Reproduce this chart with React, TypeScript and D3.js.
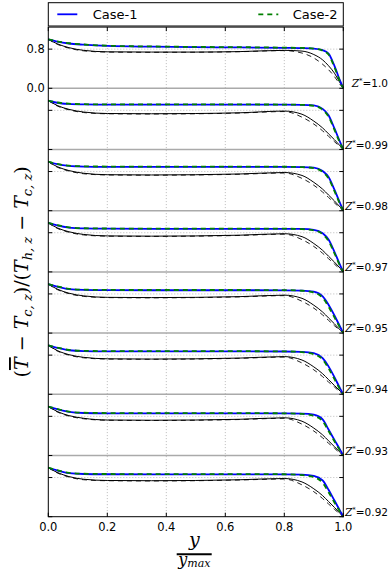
import React from 'react';
import * as d3 from 'd3';

// Sample positions along y / y_max shared by every profile
const xs = [0, 0.03, 0.07, 0.12, 0.2, 0.35, 0.5, 0.65, 0.8, 0.86, 0.9, 0.93, 0.95, 0.97, 0.99, 1.0];

// One stacked panel per Z* station, top to bottom
const zStations = ['1.0', '0.99', '0.98', '0.97', '0.95', '0.94', '0.93', '0.92'];

const xTicks = [0, 0.2, 0.4, 0.6, 0.8, 1.0];
const yTickLabels = ['0.8', '0.0'];

// Case-1 (blue solid)
const case1 = [
  [1.0, 0.955, 0.915, 0.89, 0.865, 0.85, 0.84, 0.835, 0.825, 0.82, 0.81, 0.78, 0.71, 0.46, 0.14, 0],
  [1.0, 0.955, 0.93, 0.92, 0.916, 0.915, 0.915, 0.915, 0.915, 0.912, 0.9, 0.83, 0.7, 0.43, 0.14, 0],
  [1.0, 0.95, 0.915, 0.902, 0.897, 0.895, 0.895, 0.895, 0.895, 0.892, 0.88, 0.81, 0.69, 0.43, 0.14, 0],
  [1.0, 0.95, 0.905, 0.888, 0.882, 0.88, 0.88, 0.88, 0.88, 0.877, 0.86, 0.79, 0.66, 0.41, 0.13, 0],
  [1.0, 0.95, 0.9, 0.882, 0.877, 0.875, 0.875, 0.875, 0.874, 0.868, 0.845, 0.75, 0.58, 0.36, 0.12, 0],
  [1.0, 0.95, 0.9, 0.882, 0.877, 0.875, 0.875, 0.875, 0.874, 0.866, 0.84, 0.74, 0.57, 0.35, 0.11, 0],
  [1.0, 0.945, 0.89, 0.868, 0.862, 0.86, 0.86, 0.86, 0.86, 0.855, 0.835, 0.74, 0.53, 0.32, 0.11, 0],
  [1.0, 0.945, 0.89, 0.872, 0.867, 0.865, 0.865, 0.865, 0.865, 0.86, 0.835, 0.74, 0.55, 0.33, 0.11, 0],
];

// Case-2 (green dashed)
const case2 = [
  [1.0, 0.96, 0.92, 0.895, 0.87, 0.855, 0.845, 0.84, 0.83, 0.825, 0.81, 0.77, 0.69, 0.43, 0.12, 0],
  [1.0, 0.96, 0.935, 0.925, 0.92, 0.92, 0.92, 0.92, 0.918, 0.912, 0.89, 0.81, 0.67, 0.4, 0.12, 0],
  [1.0, 0.955, 0.92, 0.907, 0.902, 0.9, 0.9, 0.9, 0.898, 0.89, 0.87, 0.79, 0.66, 0.4, 0.12, 0],
  [1.0, 0.955, 0.91, 0.892, 0.886, 0.885, 0.885, 0.885, 0.883, 0.874, 0.85, 0.77, 0.63, 0.38, 0.11, 0],
  [1.0, 0.955, 0.905, 0.887, 0.882, 0.88, 0.88, 0.88, 0.878, 0.865, 0.83, 0.72, 0.54, 0.32, 0.1, 0],
  [1.0, 0.955, 0.905, 0.887, 0.882, 0.88, 0.88, 0.88, 0.877, 0.862, 0.82, 0.71, 0.53, 0.31, 0.09, 0],
  [1.0, 0.95, 0.895, 0.873, 0.867, 0.865, 0.865, 0.865, 0.862, 0.85, 0.81, 0.7, 0.5, 0.29, 0.09, 0],
  [1.0, 0.95, 0.895, 0.877, 0.872, 0.87, 0.87, 0.87, 0.867, 0.85, 0.81, 0.69, 0.5, 0.29, 0.09, 0],
];

// Thin black solid reference profiles
const refSolid = [
  [1.0, 0.91, 0.83, 0.775, 0.745, 0.74, 0.74, 0.75, 0.775, 0.76, 0.69, 0.58, 0.46, 0.31, 0.1, 0],
  [1.0, 0.9, 0.82, 0.765, 0.735, 0.73, 0.735, 0.75, 0.785, 0.72, 0.58, 0.44, 0.32, 0.2, 0.07, 0],
  [1.0, 0.9, 0.82, 0.765, 0.735, 0.73, 0.735, 0.75, 0.78, 0.72, 0.58, 0.44, 0.32, 0.2, 0.07, 0],
  [1.0, 0.9, 0.82, 0.765, 0.735, 0.73, 0.735, 0.75, 0.78, 0.72, 0.58, 0.44, 0.32, 0.2, 0.07, 0],
  [1.0, 0.9, 0.815, 0.76, 0.73, 0.725, 0.73, 0.745, 0.775, 0.71, 0.57, 0.43, 0.31, 0.19, 0.06, 0],
  [1.0, 0.895, 0.81, 0.755, 0.725, 0.72, 0.725, 0.74, 0.77, 0.7, 0.56, 0.42, 0.3, 0.18, 0.06, 0],
  [1.0, 0.9, 0.815, 0.76, 0.725, 0.72, 0.725, 0.74, 0.77, 0.7, 0.56, 0.42, 0.3, 0.18, 0.06, 0],
  [1.0, 0.905, 0.82, 0.765, 0.74, 0.735, 0.74, 0.755, 0.78, 0.71, 0.57, 0.43, 0.31, 0.19, 0.06, 0],
];

// Thin black dashed reference profiles
const refDashed = [
  [1.0, 0.9, 0.82, 0.765, 0.74, 0.735, 0.737, 0.748, 0.77, 0.72, 0.62, 0.49, 0.38, 0.24, 0.07, 0],
  [1.0, 0.89, 0.81, 0.755, 0.73, 0.725, 0.73, 0.745, 0.775, 0.66, 0.52, 0.38, 0.27, 0.16, 0.05, 0],
  [1.0, 0.89, 0.81, 0.755, 0.73, 0.725, 0.73, 0.745, 0.77, 0.66, 0.52, 0.38, 0.27, 0.16, 0.05, 0],
  [1.0, 0.89, 0.81, 0.755, 0.73, 0.725, 0.73, 0.745, 0.77, 0.66, 0.52, 0.38, 0.27, 0.16, 0.05, 0],
  [1.0, 0.89, 0.805, 0.75, 0.725, 0.72, 0.725, 0.74, 0.765, 0.65, 0.51, 0.37, 0.26, 0.15, 0.05, 0],
  [1.0, 0.885, 0.8, 0.745, 0.72, 0.715, 0.72, 0.735, 0.76, 0.64, 0.5, 0.36, 0.25, 0.15, 0.04, 0],
  [1.0, 0.89, 0.805, 0.75, 0.72, 0.715, 0.72, 0.735, 0.76, 0.64, 0.5, 0.36, 0.25, 0.15, 0.04, 0],
  [1.0, 0.895, 0.81, 0.755, 0.735, 0.73, 0.735, 0.75, 0.77, 0.65, 0.51, 0.37, 0.26, 0.15, 0.05, 0],
];

const W = 390;
const H = 576;
const STEP = 1.25; // vertical offset between stacked panels (data units)
const LEFT = 48.3;
const RIGHT = 343.3;
const TOP = 27.1;
const BOTTOM = 516.7;

const x = d3.scaleLinear().domain([0, 1]).range([LEFT, RIGHT]);
const y = d3.scaleLinear().domain([-STEP * (zStations.length - 1), STEP]).range([BOTTOM, TOP]);

const sans = 'DejaVu Sans, sans-serif';
const serif = 'DejaVu Serif, serif';

function profilePath(values: number[], panel: number) {
  const gen = d3
    .line<number>()
    .x((_, j) => x(xs[j]))
    .y((v) => y(v - STEP * panel))
    .curve(d3.curveMonotoneX);
  return gen(values) || '';
}

export default function App() {
  const panels = zStations.map((_, i) => i);
  const grid = '#a8a8a8';
  return (
    <svg
      width={W}
      height={H}
      style={{ position: 'absolute', left: 0, top: 0, background: '#fff' }}
      xmlns="http://www.w3.org/2000/svg"
    >
      <rect x={0} y={0} width={W} height={H} fill="#fff" />

      {/* vertical dotted grid */}
      {xTicks.slice(1, -1).map((t) => (
        <line key={'vg' + t} x1={x(t)} x2={x(t)} y1={TOP} y2={BOTTOM} stroke={grid} strokeWidth={0.8} strokeDasharray="1,2" />
      ))}

      {/* per-panel dotted 0.8 grid and grey baseline */}
      {panels.map((i) => (
        <g key={'pg' + i}>
          <line x1={LEFT} x2={RIGHT} y1={y(0.8 - STEP * i)} y2={y(0.8 - STEP * i)} stroke={grid} strokeWidth={0.8} strokeDasharray="1,2" />
          {i < panels.length - 1 && (
            <line x1={LEFT} x2={RIGHT} y1={y(-STEP * i)} y2={y(-STEP * i)} stroke="#aaaaaa" strokeWidth={1.5} />
          )}
        </g>
      ))}

      {/* profiles */}
      {panels.map((i) => (
        <g key={'pr' + i} fill="none">
          <path d={profilePath(refDashed[i], i)} stroke="#222" strokeWidth={1} strokeDasharray="5,4" />
          <path d={profilePath(refSolid[i], i)} stroke="#000" strokeWidth={1} />
          <path d={profilePath(case1[i], i)} stroke="#0000ff" strokeWidth={1.8} />
          <path d={profilePath(case2[i], i)} stroke="#008000" strokeWidth={1.8} strokeDasharray="5,4" />
        </g>
      ))}

      {/* frame */}
      <rect x={LEFT} y={TOP} width={RIGHT - LEFT} height={BOTTOM - TOP} fill="none" stroke="#000" strokeWidth={1} />

      {/* y ticks on both sides of every panel */}
      {panels.map((i) =>
        [0, 0.8].map((v) => (
          <g key={'yt' + i + v}>
            <line x1={LEFT} x2={LEFT + 4} y1={y(v - STEP * i)} y2={y(v - STEP * i)} stroke="#000" strokeWidth={1} />
            <line x1={RIGHT - 4} x2={RIGHT} y1={y(v - STEP * i)} y2={y(v - STEP * i)} stroke="#000" strokeWidth={1} />
          </g>
        ))
      )}

      {/* y tick labels on the top panel */}
      {yTickLabels.map((lab) => (
        <text key={'yl' + lab} x={LEFT - 3.5} y={y(parseFloat(lab)) + 4} textAnchor="end" fontFamily={sans} fontSize={11.5} fill="#000">
          {lab}
        </text>
      ))}

      {/* x ticks and labels */}
      {xTicks.map((t) => (
        <g key={'xt' + t}>
          <line x1={x(t)} x2={x(t)} y1={BOTTOM} y2={BOTTOM - 4} stroke="#000" strokeWidth={1} />
          <line x1={x(t)} x2={x(t)} y1={TOP} y2={TOP + 4} stroke="#000" strokeWidth={1} />
          <text x={x(t)} y={BOTTOM + 14} textAnchor="middle" fontFamily={sans} fontSize={11.5} fill="#000">
            {t.toFixed(1)}
          </text>
        </g>
      ))}

      {/* Z* station labels */}
      {zStations.map((z, i) => (
        <text key={'z' + z} x={388} y={y(-STEP * i) - 1} textAnchor="end" fontSize={10.5} fill="#000">
          <tspan fontFamily={serif} fontStyle="italic">Z</tspan>
          <tspan fontFamily={sans} fontSize={7} dy={-4}>*</tspan>
          <tspan fontFamily={sans} dy={4}>={z}</tspan>
        </text>
      ))}

      {/* legend */}
      <rect x={LEFT} y={2.7} width={RIGHT - LEFT} height={23.3} fill="#fff" stroke="#000" strokeWidth={1} />
      <line x1={57.3} x2={77.3} y1={14.3} y2={14.3} stroke="#0000ff" strokeWidth={1.8} />
      <text x={92.7} y={18.8} fontFamily={sans} fontSize={13} fill="#000">Case-1</text>
      <line x1={258.3} x2={278.3} y1={14.3} y2={14.3} stroke="#008000" strokeWidth={1.8} strokeDasharray="5,4" />
      <text x={292.7} y={18.8} fontFamily={sans} fontSize={13} fill="#000">Case-2</text>

      {/* y axis label */}
      <g transform={`translate(28, ${(TOP + BOTTOM) / 2}) rotate(-90)`}>
        <text x={0} y={0} textAnchor="middle" fontFamily={serif} fontSize={19} fill="#000">
          <tspan>(</tspan>
          <tspan fontStyle="italic" textDecoration="overline">T</tspan>
          <tspan> − </tspan>
          <tspan fontStyle="italic">T</tspan>
          <tspan fontStyle="italic" fontSize={13} dy={4}>c, z</tspan>
          <tspan dy={-4}>)/(</tspan>
          <tspan fontStyle="italic">T</tspan>
          <tspan fontStyle="italic" fontSize={13} dy={4}>h, z</tspan>
          <tspan dy={-4}> − </tspan>
          <tspan fontStyle="italic">T</tspan>
          <tspan fontStyle="italic" fontSize={13} dy={4}>c, z</tspan>
          <tspan dy={-4}>)</tspan>
        </text>
      </g>

      {/* x axis label: y / y_max */}
      <text x={194.3} y={546} textAnchor="middle" fontFamily={serif} fontStyle="italic" fontSize={19} fill="#000">y</text>
      <line x1={176.7} x2={211.7} y1={554.3} y2={554.3} stroke="#000" strokeWidth={2} />
      <text x={194.3} y={565} textAnchor="middle" fontFamily={serif} fontStyle="italic" fill="#000">
        <tspan fontSize={16}>y</tspan>
        <tspan fontSize={11} dy={2}>max</tspan>
      </text>
    </svg>
  );
}
